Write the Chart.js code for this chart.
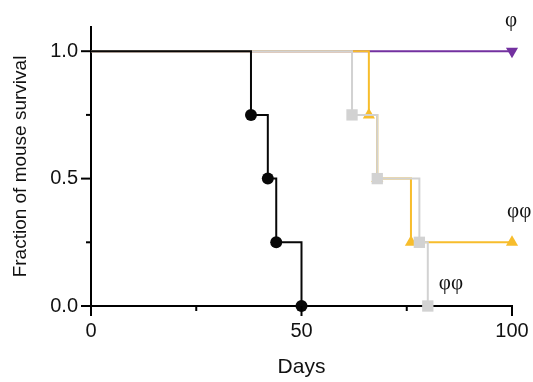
<!DOCTYPE html>
<html>
<head>
<meta charset="utf-8">
<script src="https://cdn.jsdelivr.net/npm/chart.js@4/dist/chart.umd.min.js"></script>
<style>
  html, body { margin: 0; padding: 0; background: #fff; }
  #wrap { width: 533px; height: 382px; }
</style>
</head>
<body>
<div id="wrap"><canvas id="survChart" width="533" height="382"></canvas></div>
<script>
// survival data (days, fraction surviving)
const blackDays = [0, 38, 42, 44, 50];
const blackSurv = [1, 0.75, 0.5, 0.25, 0];
const grayDays = [0, 62, 68, 78, 80];
const graySurv = [1, 0.75, 0.5, 0.25, 0];
const yellowDays = [0, 66, 68, 76, 100];
const yellowSurv = [1, 0.75, 0.5, 0.25, 0.25];
const purpleDays = [0, 100];
const purpleSurv = [1, 1];

// axis ticks
const xTicks = [0, 25, 50, 75, 100];
const xTickLabels = ['0', '', '50', '', '100'];
const yTicks = [0, 0.25, 0.5, 0.75, 1.0];
const yTickLabels = ['0.0', '', '0.5', '', '1.0'];

const sansFont = "'Liberation Sans', Arial, Helvetica, sans-serif";

function toPoints(days, surv) {
    return days.map((d, i) => ({ x: d, y: surv[i] }));
}

// no marker on the starting point
function skipFirst(r) {
    return ctx => ctx.dataIndex === 0 ? 0 : r;
}

// text labels next to the curves, in data units
const curveLabels = [
    { text: 'φ', x: 99.8, y: 1.122 },
    { text: 'φφ', x: 101.7, y: 0.369 },
    { text: 'φφ', x: 85.5, y: 0.09 }
];

// draws major/minor tick marks and the curve labels
const extrasPlugin = {
    id: 'extras',
    afterDraw(chart) {
        const ctx = chart.ctx;
        const xs = chart.scales.x;
        const ys = chart.scales.y;
        const area = chart.chartArea;
        ctx.save();
        ctx.strokeStyle = '#000';
        ctx.lineWidth = 2;
        xTicks.forEach((v, i) => {
            let px = xs.getPixelForValue(v);
            let len = xTickLabels[i] ? 10 : 5;
            ctx.beginPath();
            ctx.moveTo(px, area.bottom);
            ctx.lineTo(px, area.bottom + len);
            ctx.stroke();
        });
        yTicks.forEach((v, i) => {
            let py = ys.getPixelForValue(v);
            let len = yTickLabels[i] ? 10 : 5;
            ctx.beginPath();
            ctx.moveTo(area.left, py);
            ctx.lineTo(area.left - len, py);
            ctx.stroke();
        });

        ctx.fillStyle = '#111';
        ctx.font = "21px 'Liberation Serif', 'Times New Roman', serif";
        ctx.textAlign = 'center';
        ctx.textBaseline = 'middle';
        curveLabels.forEach(l => {
            ctx.fillText(l.text, xs.getPixelForValue(l.x), ys.getPixelForValue(l.y));
        });
        ctx.restore();
    }
};

let ctxSurv = document.getElementById('survChart').getContext('2d');

new Chart(ctxSurv, {
    type: 'line',
    data: {
        datasets: [
            {
                label: 'black',
                data: toPoints(blackDays, blackSurv),
                borderColor: '#080808',
                backgroundColor: '#080808',
                pointStyle: 'circle',
                pointRadius: skipFirst(6),
            },
            {
                label: 'gray',
                data: toPoints(grayDays, graySurv),
                borderColor: '#d2d2d2',
                backgroundColor: '#d2d2d2',
                pointStyle: 'rect',
                pointRadius: skipFirst(8),
            },
            {
                label: 'yellow',
                data: toPoints(yellowDays, yellowSurv),
                borderColor: '#f7bd2c',
                backgroundColor: '#f7bd2c',
                pointStyle: 'triangle',
                pointRadius: skipFirst(7),
            },
            {
                label: 'purple',
                data: toPoints(purpleDays, purpleSurv),
                borderColor: '#7331a0',
                backgroundColor: '#7331a0',
                pointStyle: 'triangle',
                pointRotation: 180,
                pointRadius: skipFirst(7),
            }
        ].map(ds => Object.assign(ds, {
            stepped: true,
            borderWidth: 2,
            pointBorderWidth: 0,
            pointHoverRadius: 0,
            fill: false,
            clip: false,
        }))
    },
    options: {
        responsive: false,
        animation: false,
        events: [],
        layout: {
            padding: { top: 27, right: 21, left: 0, bottom: 0 }
        },
        scales: {
            x: {
                type: 'linear',
                min: 0,
                max: 100,
                afterFit: scale => { scale.height = 76; },
                afterBuildTicks: scale => {
                    scale.ticks = xTicks.map(v => ({ value: v }));
                },
                grid: {
                    display: true,
                    drawOnChartArea: false,
                    drawTicks: true,
                    tickLength: 10,
                    color: 'rgba(0,0,0,0)',
                },
                border: { display: true, color: '#000', width: 2 },
                ticks: {
                    color: '#111',
                    padding: 3,
                    maxRotation: 0,
                    autoSkip: false,
                    font: { size: 20, family: sansFont },
                    callback: function (value, index) {
                        return xTickLabels[index];
                    }
                },
                title: {
                    display: true,
                    text: 'Days',
                    color: '#111',
                    font: { size: 21, family: sansFont },
                    padding: { top: 0, bottom: 2 }
                }
            },
            y: {
                type: 'linear',
                min: 0,
                max: 1.095,
                afterFit: scale => { scale.width = 91; },
                afterBuildTicks: scale => {
                    scale.ticks = yTicks.map(v => ({ value: v }));
                },
                grid: {
                    display: true,
                    drawOnChartArea: false,
                    drawTicks: true,
                    tickLength: 10,
                    color: 'rgba(0,0,0,0)',
                },
                border: { display: true, color: '#000', width: 2 },
                ticks: {
                    color: '#111',
                    padding: 3,
                    autoSkip: false,
                    font: { size: 20, family: sansFont },
                    callback: function (value, index) {
                        return yTickLabels[index];
                    }
                },
                title: {
                    display: true,
                    text: 'Fraction of mouse survival',
                    color: '#111',
                    font: { size: 19, family: sansFont },
                    padding: { top: 9, bottom: 0 }
                }
            }
        },
        plugins: {
            legend: { display: false },
            tooltip: { enabled: false }
        }
    },
    plugins: [extrasPlugin]
});
</script>
</body>
</html>
